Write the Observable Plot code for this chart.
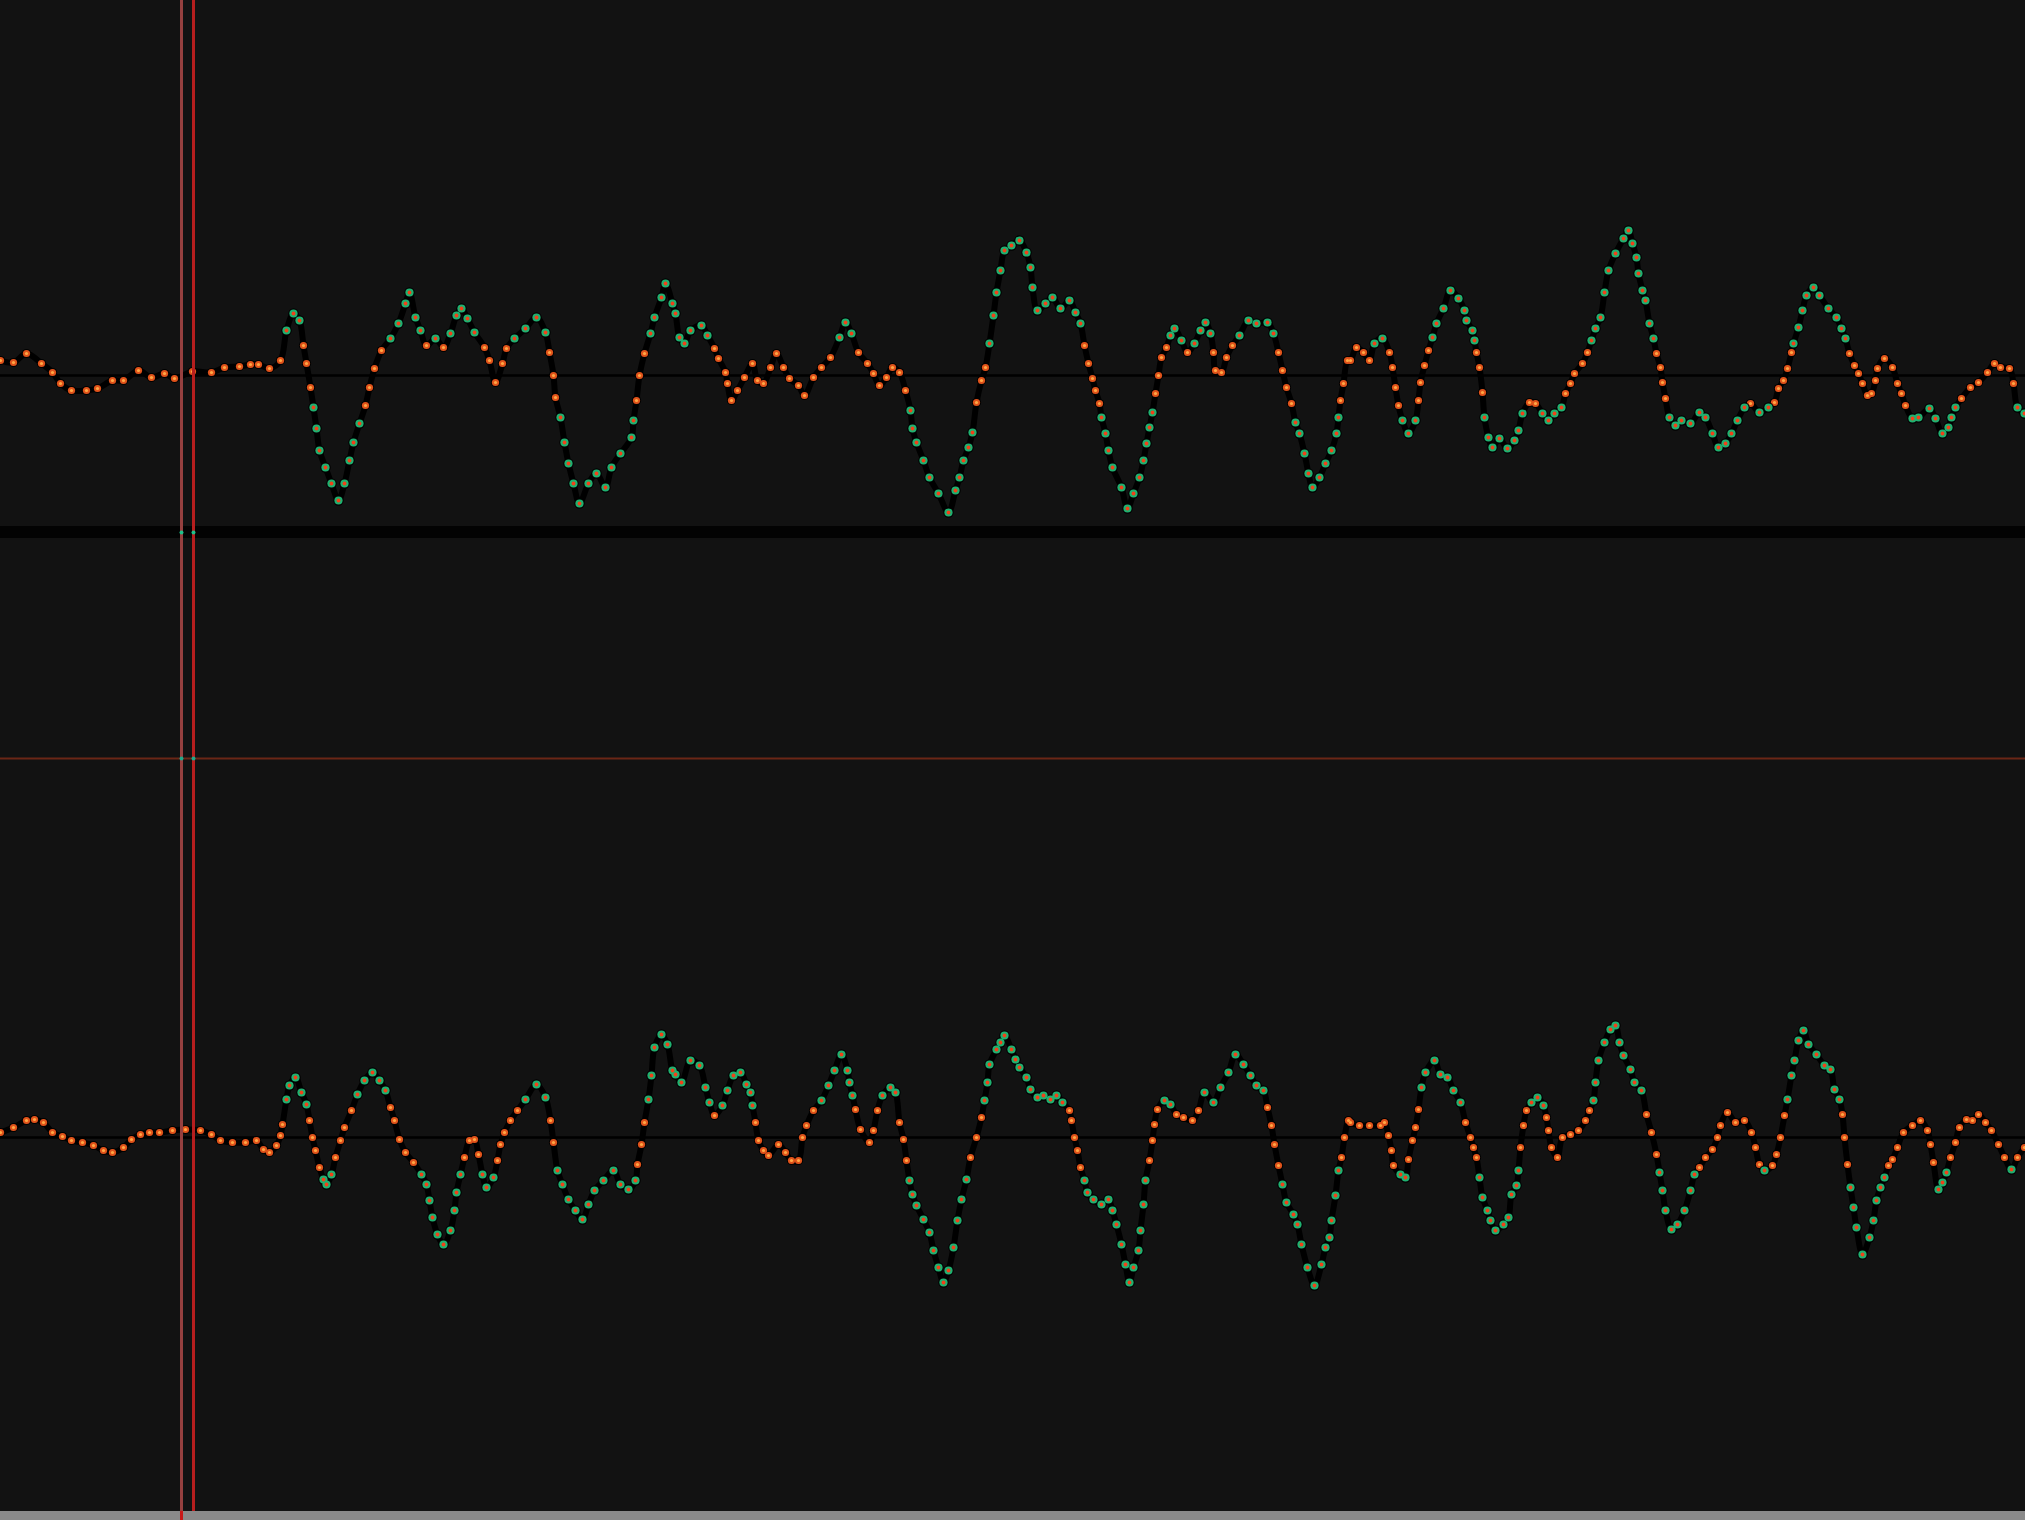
<!DOCTYPE html>
<html>
<head>
<meta charset="utf-8">
<script src="https://cdn.jsdelivr.net/npm/d3@7"></script>
<script src="https://cdn.jsdelivr.net/npm/@observablehq/plot@0.6"></script>
<style>
  html, body { margin: 0; padding: 0; background: #121212; overflow: hidden; }
  #wrap { width: 2025px; height: 1520px; }
  #wrap svg { display: block; }
</style>
</head>
<body>
<div id="wrap"></div>
<script>
// ---- Data: sample position (x) and amplitude ----
const ch1X = [0,13,26,41,52,60,71,86,97,112,123,138,151,164,174,192,211,224,239,250,258,269,280,286,293,299,303,306,310,313,316,319,325,331,338,344,349,353,359,365,369,374,381,390,398,405,409,415,420,426,435,443,450,456,461,467,474,484,489,495,502,506,514,525,536,545,549,553,555,560,564,568,573,579,588,596,605,611,620,631,633,636,639,644,650,654,661,665,672,
675,679,684,690,701,707,714,718,725,727,731,737,744,752,757,763,770,776,783,789,798,804,813,821,830,839,845,851,858,867,873,879,886,892,899,905,910,912,916,923,929,938,948,955,959,963,968,972,976,981,985,989,993,996,1000,1004,1011,1019,1026,1030,1032,1037,1045,1052,1060,1069,1075,1080,1084,1088,1092,1095,1099,1101,1105,1108,1112,1121,1127,1133,1139,1143,1146,1149,1152,1155,1158,1161,1166,1170,1174,1181,1187,1194,1200,1205,1210,1213,1215,1221,1226,1232,1239,1248,1256,1267,1273,1278,1282,1286,1291,1295,1299,1304,1308,1312,1319,1325,1331,1336,1338,1340,1343,1347,
1350,1356,1363,1369,1374,1382,1389,1392,1395,1398,1402,1408,1415,1418,1420,1424,1428,1432,1436,1443,1450,1458,1464,1466,1472,1474,1476,1479,1482,1484,1488,1492,1499,1507,1514,1518,1522,1529,1535,1542,1548,1554,1561,1565,1570,1574,1582,1587,1591,1595,1600,1604,1608,1615,1623,1628,1632,1636,1638,1642,1645,1649,1653,1656,1660,1662,1665,1669,1675,1681,1690,1699,1705,1712,1718,1725,1731,1737,1744,1750,1759,1768,1774,1778,1783,1787,1791,1793,1798,1802,1806,1813,1819,1828,1836,1841,1845,1849,1854,1858,1862,1867,1871,1875,1877,1884,1892,1897,1901,1905,1912,1918,1929,1935,1942,1948,1951,1955,1961,1970,1978,1987,1994,2000,2009,2013,2017,2024];
const ch1A = [15,13,22,12,3,-8,-15,-15,-13,-5,-5,5,-2,2,-3,4,3,8,9,11,11,7,15,45,62,55,30,12,-12,-32,-53,-75,-92,-108,-125,-108,-85,-67,-48,-30,-12,7,25,37,52,72,83,58,45,30,37,28,42,60,67,57,43,28,15,-7,12,27,37,47,58,43,23,0,-22,-42,-67,-88,-108,-128,-108,-98,-112,-92,-78,-62,-45,-25,0,22,42,58,78,92,72,
62,38,32,45,50,40,27,17,3,-8,-25,-15,-2,12,-5,-8,8,22,8,-3,-10,-20,-2,8,18,38,53,42,23,12,2,-10,-2,8,3,-15,-35,-53,-67,-85,-102,-118,-137,-115,-102,-85,-72,-57,-27,-5,8,32,60,83,105,125,130,135,123,108,88,65,72,78,67,75,63,52,30,12,-3,-15,-28,-42,-58,-75,-92,-112,-133,-118,-102,-85,-68,-52,-37,-18,0,18,28,40,47,35,23,32,45,53,42,23,5,3,18,30,40,55,52,53,42,23,5,-12,-28,-47,-58,-78,-98,-112,-102,-88,-75,-58,-42,-25,-8,15,
15,28,23,15,32,37,23,8,-12,-30,-45,-58,-45,-25,-7,10,25,38,52,67,85,77,65,55,45,35,23,8,-17,-42,-62,-72,-63,-73,-65,-55,-38,-27,-28,-38,-45,-38,-32,-18,-8,2,12,23,35,47,58,83,105,122,137,145,132,118,102,85,75,52,37,22,8,-7,-23,-42,-50,-45,-48,-37,-42,-58,-72,-68,-58,-45,-32,-28,-37,-32,-27,-13,-5,7,23,32,48,65,80,88,80,67,58,47,37,22,10,2,-8,-20,-18,-5,7,17,8,-8,-18,-30,-43,-42,-33,-43,-58,-52,-42,-32,-23,-12,-7,3,12,8,7,-8,-32,-38];

const ch2X = [0,13,26,34,43,52,62,71,82,93,103,112,123,131,140,149,159,172,185,200,211,220,232,245,256,263,269,276,280,282,286,289,295,301,306,309,312,315,319,323,326,331,335,340,344,351,357,364,372,379,385,390,394,399,405,413,421,426,429,432,437,443,450,454,456,460,464,469,474,478,482,486,493,497,500,504,510,517,525,536,545,550,553,557,562,568,575,582,588,594,603,613,620,628,635,637,641,644,648,651,654,661,667,672,
675,681,690,699,705,709,714,722,727,733,740,746,750,752,755,758,763,768,778,785,791,798,802,806,813,821,828,834,841,847,849,852,855,860,869,873,877,882,890,895,899,903,906,909,912,916,923,929,933,938,943,948,953,957,961,966,970,976,981,984,987,989,996,1000,1004,1011,1015,1019,1026,1030,1037,1043,1050,1056,1062,1069,1071,1074,1077,1080,1084,1087,1093,1101,1108,1112,1116,1121,1125,1129,1133,1138,1140,1143,1145,1149,1152,1154,1157,1164,1170,1176,1183,1192,1198,1204,1213,1220,1228,1235,1243,1250,1256,1263,1267,1271,1274,1278,1282,1286,1293,1297,1301,1307,1314,1321,1325,1329,1331,1335,1338,1341,1344,1348,
1350,1359,1369,1380,1384,1388,1391,1393,1400,1405,1408,1412,1415,1418,1421,1425,1434,1440,1447,1453,1460,1465,1470,1473,1476,1479,1482,1487,1490,1495,1503,1508,1511,1516,1518,1520,1523,1526,1531,1537,1543,1546,1548,1551,1557,1562,1570,1578,1585,1589,1593,1595,1598,1604,1610,1615,1619,1623,1630,1634,1641,1646,1651,1656,1659,1662,1665,1671,1677,1684,1690,1694,1699,1705,1712,1717,1720,1727,1735,1744,1751,1755,1759,1764,1772,1776,1780,1784,1787,1791,1794,1798,1803,1808,1816,1824,1830,1834,1839,1842,1844,1847,1850,1853,1856,1862,1869,1873,1876,1880,1884,1888,1892,1897,1903,1912,1920,1927,1930,1933,1938,1942,1946,1950,1955,1959,1966,1972,1978,1985,1991,1998,2004,2011,2017,2024];
const ch2A = [5,10,17,18,15,5,1,-3,-5,-8,-13,-15,-10,-2,3,5,5,7,8,7,3,-3,-5,-5,-3,-12,-15,-8,2,13,38,52,60,45,33,17,0,-13,-30,-42,-47,-37,-20,-3,10,27,43,57,65,57,47,30,17,-2,-15,-25,-37,-47,-63,-80,-97,-107,-93,-73,-55,-37,-20,-3,-2,-17,-37,-50,-40,-23,-7,5,17,27,38,53,40,17,-5,-33,-47,-62,-73,-82,-67,-53,-43,-33,-47,-52,-43,-27,-7,15,38,62,90,103,93,67,
63,55,77,72,50,35,22,32,47,62,65,53,45,32,15,-3,-13,-18,-7,-15,-23,-23,0,12,27,37,52,67,83,67,55,42,28,8,-5,7,27,42,50,45,15,-2,-23,-43,-57,-68,-82,-95,-113,-130,-145,-133,-110,-83,-62,-42,-20,0,20,37,55,73,88,95,102,88,78,70,60,48,40,42,38,42,35,27,17,0,-13,-30,-43,-55,-62,-67,-62,-73,-87,-107,-127,-145,-130,-113,-93,-67,-43,-23,-3,13,28,37,33,23,20,17,27,45,35,50,65,83,73,62,52,47,30,12,-7,-28,-47,-65,-77,-87,-107,-130,-148,-127,-110,-100,-83,-58,-33,-20,0,17,
15,12,12,12,15,2,-13,-28,-37,-40,-22,-3,10,28,50,65,77,63,60,47,35,15,0,-10,-20,-40,-60,-73,-83,-93,-87,-80,-57,-48,-33,-10,12,27,35,40,32,20,7,-10,-20,0,3,7,17,27,37,55,77,95,108,112,95,82,68,55,47,23,5,-17,-35,-53,-73,-92,-87,-73,-53,-37,-30,-20,-12,0,12,25,15,17,5,-10,-27,-33,-28,-17,0,22,38,62,77,97,107,93,83,72,68,48,38,23,0,-27,-50,-70,-90,-117,-100,-83,-63,-50,-40,-28,-22,-10,5,12,17,7,-7,-25,-52,-45,-35,-20,-5,10,18,17,23,15,7,-7,-20,-32,-20,-10];

// Cursor / guide positions
const cursorLines = [181, 193];       // sample positions of the two cursor lines
const channelGap = [-151, -163];      // separator band below channel 1 (amplitude units)
const ch2Guide = 379;                 // dark red guide level in channel 2
const bottomBar = [-374, -383];       // scroll bar strip at bottom of channel 2
const sampleDomain = [0, 2025];
const ch1Domain = [-163, 375];
const ch2Domain = [-383, 599];
const loud = 30;                      // amplitude above which samples are drawn green

const ch1 = ch1X.map((x, i) => ({x, a: ch1A[i]}));
const ch2 = ch2X.map((x, i) => ({x, a: ch2A[i]}));

function waveMarks(data) {
  const quiet = d => Math.abs(d.a) <= loud;
  const big = d => Math.abs(d.a) > loud;
  return [
    Plot.ruleY([0], {stroke: "#000", strokeWidth: 2.5}),
    Plot.line(data, {x: "x", y: "a", curve: "catmull-rom", stroke: "#000", strokeWidth: 6}),
    Plot.dot(data, {filter: quiet, x: "x", y: "a", r: 4.6, fill: "#000"}),
    Plot.dot(data, {filter: quiet, x: "x", y: "a", r: 3.6, fill: "#e0521a"}),
    Plot.dot(data, {filter: quiet, x: "x", y: "a", r: 1.6, fill: "#ffa845"}),
    Plot.dot(data, {filter: big, x: "x", y: "a", r: 5.2, fill: "#000"}),
    Plot.dot(data, {filter: big, x: "x", y: "a", r: 4.1, fill: "#20b070"}),
    Plot.dot(data, {filter: big, x: "x", y: "a", r: 1.9, fill: "#f0421a"})
  ];
}

const common = {
  width: 2025,
  marginTop: 0, marginBottom: 0, marginLeft: 0, marginRight: 0,
  x: {domain: sampleDomain, axis: null},
  style: {background: "#121212"}
};

const plot1 = Plot.plot({
  ...common,
  height: 538,
  y: {domain: ch1Domain, axis: null},
  marks: [
    ...waveMarks(ch1),
    Plot.rectY([channelGap], {x1: sampleDomain[0], x2: sampleDomain[1], y1: d => d[0], y2: d => d[1], fill: "#030303"}),
    Plot.ruleX([cursorLines[0]], {stroke: "#96403f", strokeWidth: 3}),
    Plot.ruleX([cursorLines[1]], {stroke: "#b61e1e", strokeWidth: 3}),
    Plot.dot(cursorLines, {x: d => d, y: (channelGap[0] + channelGap[1]) / 2, r: 2, fill: "#1fc08a"})
  ]
});

const plot2 = Plot.plot({
  ...common,
  height: 982,
  y: {domain: ch2Domain, axis: null},
  marks: [
    Plot.ruleY([ch2Guide], {stroke: "#6b2616", strokeWidth: 2}),
    ...waveMarks(ch2),
    Plot.ruleX([cursorLines[0]], {stroke: "#96403f", strokeWidth: 3}),
    Plot.ruleX([cursorLines[1]], {stroke: "#b61e1e", strokeWidth: 3}),
    Plot.dot(cursorLines, {x: d => d, y: ch2Guide, r: 2, fill: "#1fa88a"}),
    Plot.rectY([bottomBar], {x1: sampleDomain[0], x2: sampleDomain[1], y1: d => d[0], y2: d => d[1], fill: "#8a8a8a"}),
    Plot.ruleX([cursorLines[0]], {y1: bottomBar[0], y2: bottomBar[1], stroke: "#c81818", strokeWidth: 3})
  ]
});

const wrap = document.getElementById("wrap");
wrap.appendChild(plot1);
wrap.appendChild(plot2);
</script>
</body>
</html>
